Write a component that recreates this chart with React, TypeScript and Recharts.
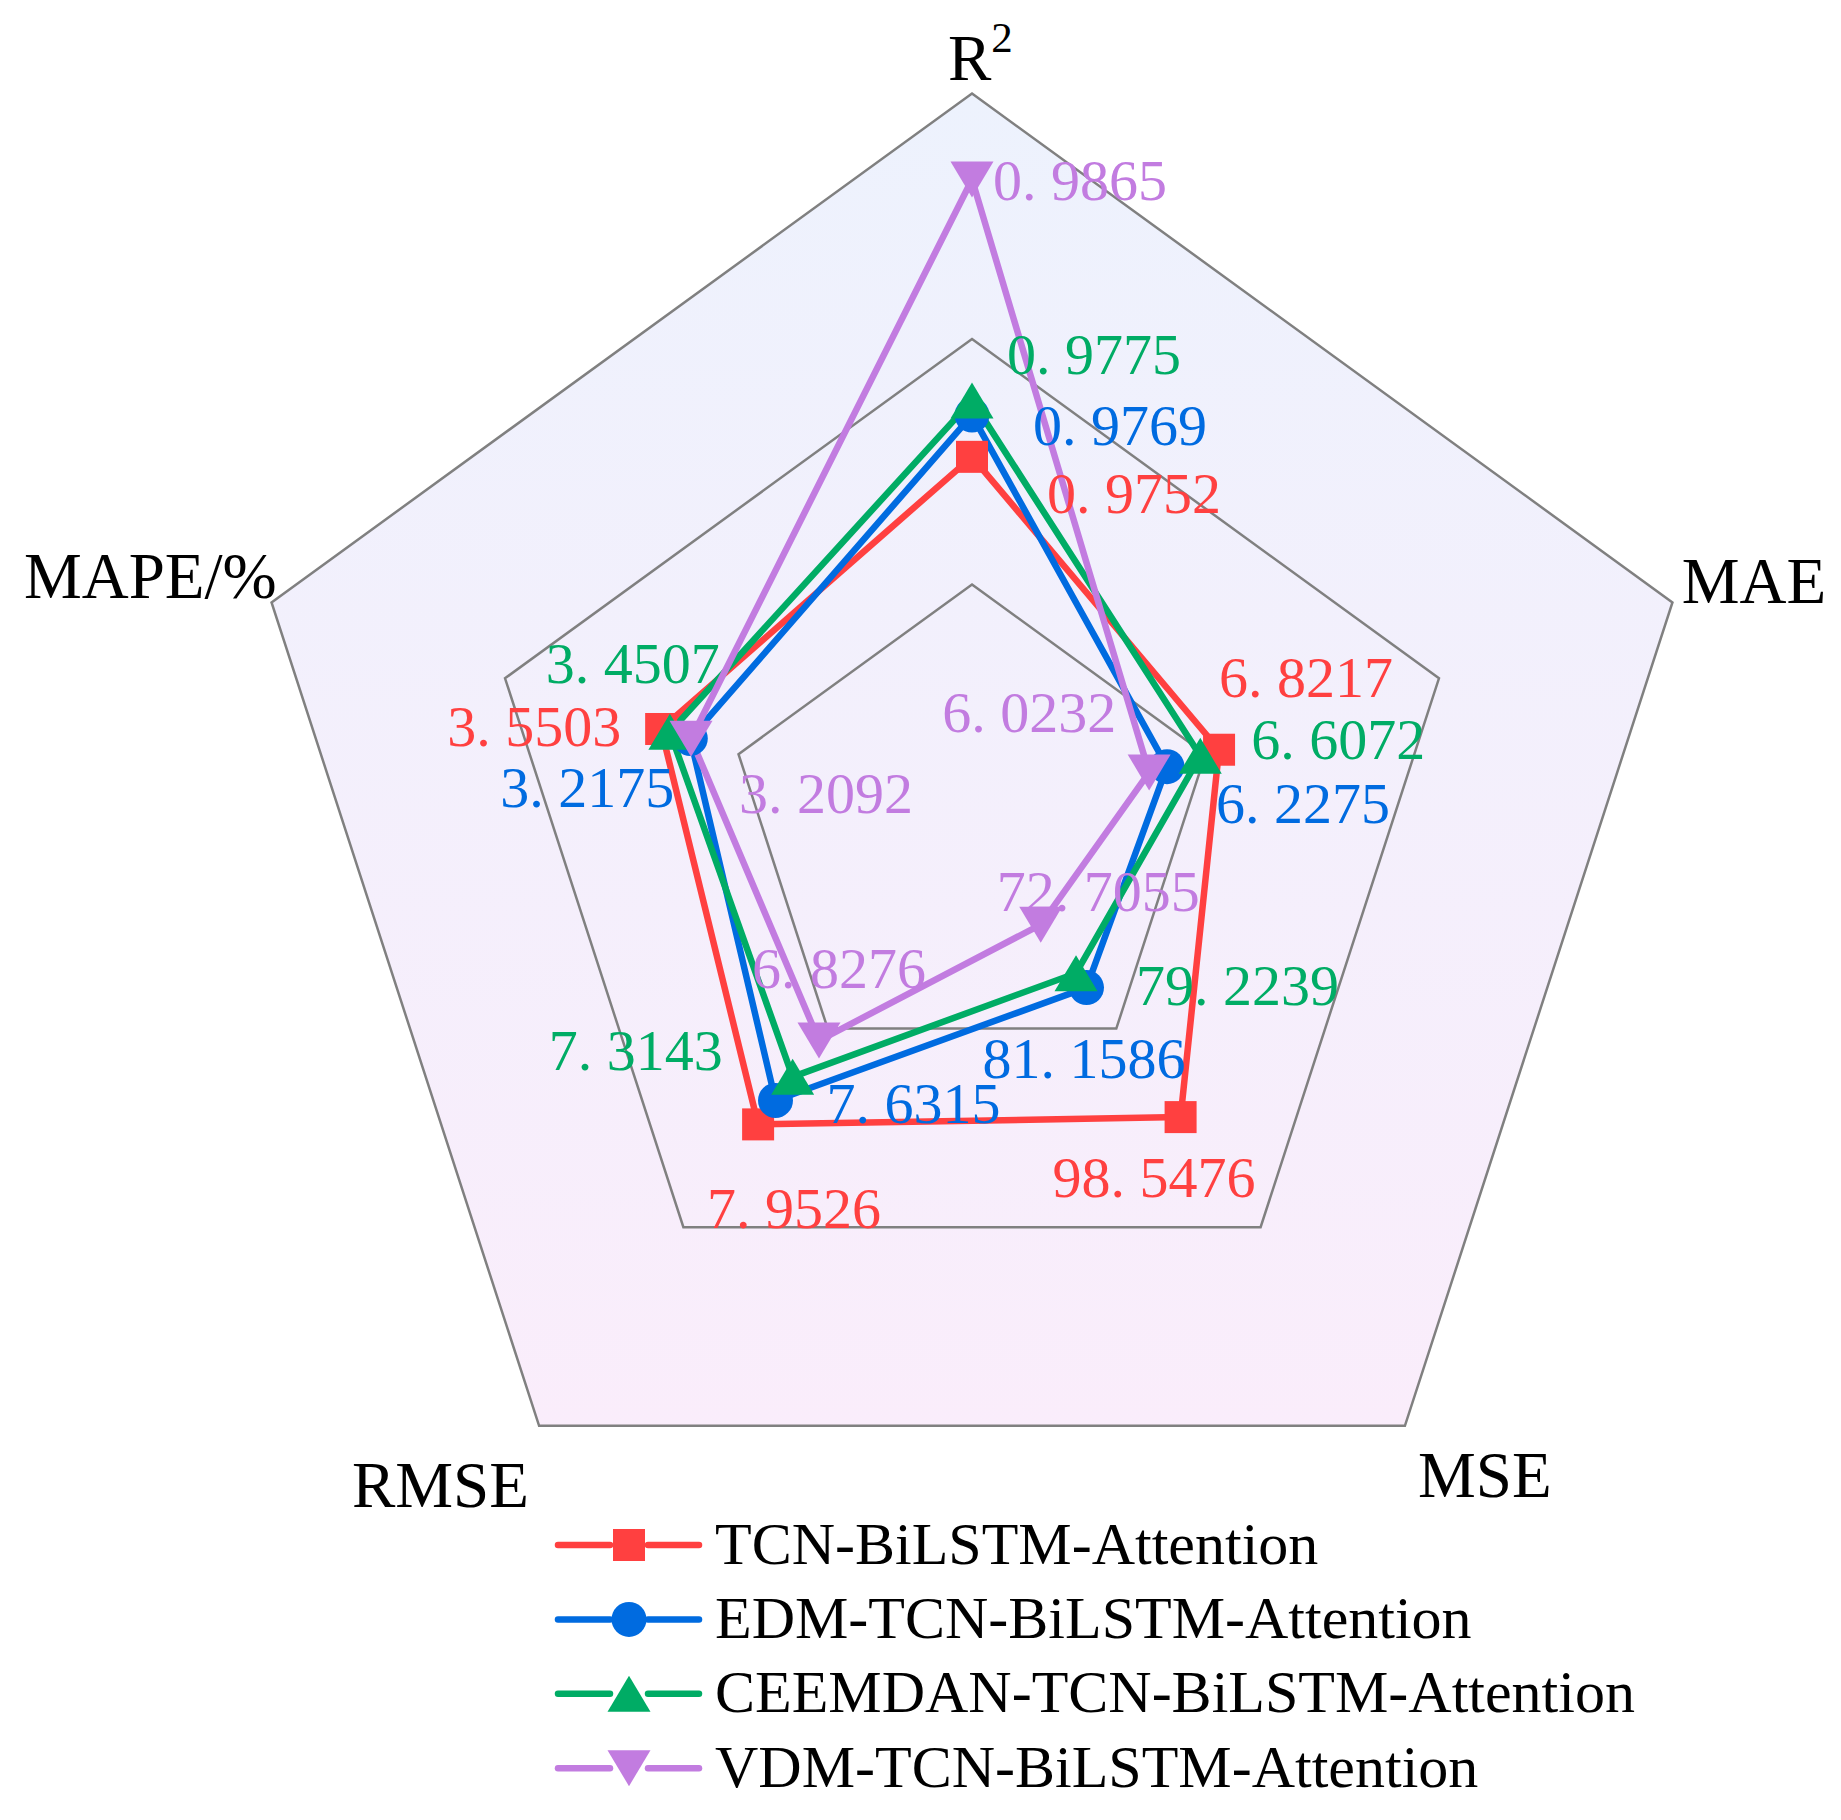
import {
  RadarChart,
  Radar,
  PolarAngleAxis,
  PolarRadiusAxis,
  Legend,
} from 'recharts';

// indicators and the range each radial axis spans
const indicators = ['R²', 'MAE', 'MSE', 'RMSE', 'MAPE/%'];
const axisMin = [0.96, 4, 60, 4, 0];
const axisMax = [0.99, 12, 140, 12, 8];

// model results, in indicator order
const tcnValues = [0.9752, 6.8217, 98.5476, 7.9526, 3.5503];
const edmValues = [0.9769, 6.2275, 81.1586, 7.6315, 3.2175];
const ceemdanValues = [0.9775, 6.6072, 79.2239, 7.3143, 3.4507];
const vdmValues = [0.9865, 6.0232, 72.7055, 6.8276, 3.2092];

const seriesNames = [
  'TCN-BiLSTM-Attention',
  'EDM-TCN-BiLSTM-Attention',
  'CEEMDAN-TCN-BiLSTM-Attention',
  'VDM-TCN-BiLSTM-Attention',
];

// grid rings, as a share of each axis range
const gridLevels = [1 / 3, 2 / 3, 1];

const FONT = '"Liberation Serif", "Times New Roman", serif';

type Shape = 'square' | 'circle' | 'up' | 'down';

const series: {
  key: string;
  values: number[];
  color: string;
  shape: Shape;
  labelOffsets: [number, number][];
}[] = [
  {
    key: 's0',
    values: tcnValues,
    color: '#FF4040',
    shape: 'square',
    labelOffsets: [[75, 56], [0, -53], [-128, 80], [-51, 104], [-214, 17]],
  },
  {
    key: 's1',
    values: edmValues,
    color: '#006BE0',
    shape: 'circle',
    labelOffsets: [[61, 30], [49, 56], [-104, 90], [51, 23], [-190, 69]],
  },
  {
    key: 's2',
    values: ceemdanValues,
    color: '#00AC65',
    shape: 'up',
    labelOffsets: [[35, -26], [51, 3], [60, 32], [-244, -7], [-124, -49]],
  },
  {
    key: 's3',
    values: vdmValues,
    color: '#C27CE0',
    shape: 'down',
    labelOffsets: [[21, 21], [-207, -40], [-44, -14], [-67, -53], [48, 74]],
  },
];

// each row holds the values scaled to its own axis range
const data = indicators.map((name, i) => {
  const row: Record<string, number | string> = { name };
  gridLevels.forEach((g, gi) => {
    row['ring' + gi] = g;
  });
  series.forEach(s => {
    row[s.key] = (s.values[i] - axisMin[i]) / (axisMax[i] - axisMin[i]);
  });
  return row;
});

const CX = 972;
const CY = 830;
const R = 736.5;

function Marker({ shape, x, y, color }: { shape: Shape; x: number; y: number; color: string }) {
  if (shape === 'square') return <rect x={x - 16} y={y - 16} width={32} height={32} fill={color} />;
  if (shape === 'circle') return <circle cx={x} cy={y} r={17.5} fill={color} />;
  if (shape === 'up')
    return <polygon points={`${x},${y - 18} ${x + 21.5},${y + 18} ${x - 21.5},${y + 18}`} fill={color} />;
  return <polygon points={`${x - 21.5},${y - 18} ${x + 21.5},${y - 18} ${x},${y + 18}`} fill={color} />;
}

function ValueLabel({ x, y, value, color }: { x: number; y: number; value: number; color: string }) {
  const [whole, frac] = value.toFixed(4).split('.');
  return (
    <text x={x} y={y} fill={color} fontSize={58} fontFamily={FONT}>
      <tspan>{whole}.</tspan>
      <tspan dx={14.5}>{frac}</tspan>
    </text>
  );
}

const tickOffsets: [number, number, 'start' | 'end'][] = [
  [-24, -5.5, 'start'],
  [1.6, 2.8, 'start'],
  [8.4, 65, 'start'],
  [-5.4, 75, 'end'],
  [12.8, -1.6, 'end'],
];

function AxisTick(props: any) {
  const { x, y, index, payload } = props;
  const [dx, dy, anchor] = tickOffsets[index];
  const label = String(payload.value);
  if (label === 'R²') {
    return (
      <text x={x + dx} y={y + dy} fontSize={65} fontFamily={FONT} fill="#000" textAnchor="start">
        <tspan>R</tspan>
        <tspan fontSize={43} dy={-28}>2</tspan>
      </text>
    );
  }
  return (
    <text x={x + dx} y={y + dy} fontSize={65} fontFamily={FONT} fill="#000" textAnchor={anchor}>
      {label}
    </text>
  );
}

function LegendBox() {
  return (
    <svg width={1100} height={300}>
      {series.map((s, i) => {
        const y = 45 + i * 74.4;
        return (
          <g key={s.key}>
            <line x1={8} y1={y} x2={60} y2={y} stroke={s.color} strokeWidth={6.5} strokeLinecap="round" />
            <line x1={98} y1={y} x2={149} y2={y} stroke={s.color} strokeWidth={6.5} strokeLinecap="round" />
            <Marker shape={s.shape} x={79} y={y} color={s.color} />
            <text x={165} y={y + 18.5} fontSize={60} fontFamily={FONT} fill="#000">
              {seriesNames[i]}
            </text>
          </g>
        );
      })}
    </svg>
  );
}

export default function App() {
  return (
    <div style={{ position: 'absolute', left: 0, top: 0, width: 1841, height: 1820, background: '#fff' }}>
      <RadarChart
        width={1841}
        height={1820}
        data={data}
        cx={CX}
        cy={CY}
        outerRadius={R}
        margin={{ top: 0, right: 0, bottom: 0, left: 0 }}
      >
        <defs>
          <linearGradient id="bgGrad" x1="0" y1="0" x2="0" y2="1">
            <stop offset="0%" stopColor="#EDF2FD" />
            <stop offset="100%" stopColor="#FAEDFB" />
          </linearGradient>
        </defs>
        {/* background pentagon */}
        <Radar
          dataKey="ring2"
          stroke="none"
          fill="url(#bgGrad)"
          fillOpacity={1}
          dot={false}
          legendType="none"
          isAnimationActive={false}
        />
        {/* grid rings drawn over the background */}
        {gridLevels.map((_, gi) => (
          <Radar
            key={'ring' + gi}
            dataKey={'ring' + gi}
            stroke="#808080"
            strokeWidth={2.5}
            fill="none"
            fillOpacity={0}
            dot={false}
            legendType="none"
            isAnimationActive={false}
          />
        ))}
        <PolarAngleAxis dataKey="name" tick={AxisTick} tickLine={false} axisLine={false} />
        <PolarRadiusAxis domain={[0, 1]} tick={false} axisLine={false} tickCount={5} />
        {series.map((s, si) => (
          <Radar
            key={s.key}
            name={seriesNames[si]}
            dataKey={s.key}
            stroke={s.color}
            strokeWidth={6.5}
            strokeLinejoin="round"
            fill="none"
            fillOpacity={0}
            isAnimationActive={false}
            dot={(p: any) => (
              <g key={`${s.key}-dot-${p.index}`}>
                <Marker shape={s.shape} x={p.cx} y={p.cy} color={s.color} />
                <ValueLabel
                  x={p.cx + s.labelOffsets[p.index][0]}
                  y={p.cy + s.labelOffsets[p.index][1]}
                  value={s.values[p.index]}
                  color={s.color}
                />
              </g>
            )}
          />
        ))}
        <Legend
          content={() => <LegendBox />}
          wrapperStyle={{ left: 550, top: 1500, width: 1100, height: 300 }}
        />
      </RadarChart>
    </div>
  );
}
